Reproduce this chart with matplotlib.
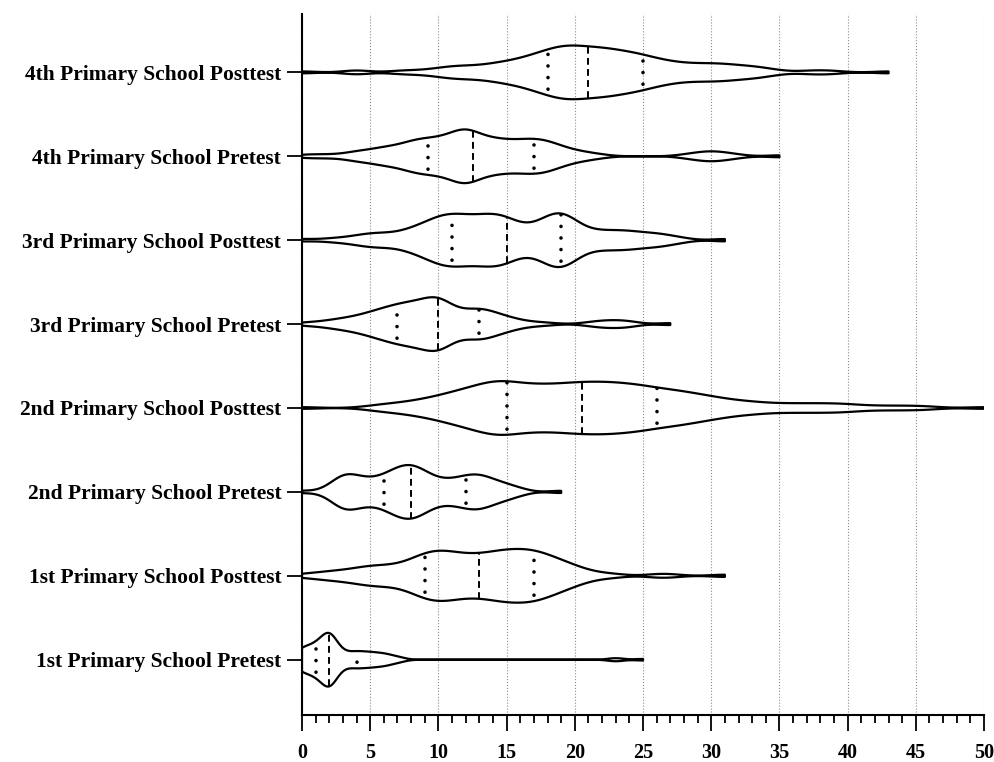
import numpy as np
import matplotlib
matplotlib.use('Agg')
import matplotlib.pyplot as plt
from matplotlib import mlab

plt.rcParams['font.family'] = 'Liberation Serif'
plt.rcParams['font.weight'] = 'bold'

groups = ['1st Primary School Pretest', '1st Primary School Posttest',
          '2nd Primary School Pretest', '2nd Primary School Posttest',
          '3rd Primary School Pretest', '3rd Primary School Posttest',
          '4th Primary School Pretest', '4th Primary School Posttest']

# test scores and how many pupils got each score
pre1_scores = [0, 1, 2, 3, 4, 5, 6, 7, 23, 25]
pre1_counts = [12, 14, 30, 6, 8, 7, 6, 3, 2, 1]

post1_scores = [0, 1, 2, 3, 4, 5, 6, 7, 8, 9, 10, 11, 12, 13, 14, 15, 16, 17, 18,
                19, 20, 21, 22, 23, 26, 27, 31]
post1_counts = [1, 1, 2, 2, 3, 4, 4, 4, 6, 9, 10, 9, 8, 8, 9, 10, 10, 10, 8,
                6, 4, 2, 1, 1, 1, 1, 1]

pre2_scores = [0, 2, 3, 4, 5, 6, 7, 8, 9, 10, 11, 12, 13, 14, 15, 16, 19]
pre2_counts = [1, 3, 10, 8, 6, 8, 12, 14, 10, 6, 6, 8, 9, 6, 4, 2, 1]

post2_scores = [0, 5, 6, 7, 8, 9, 10, 11, 12, 13, 14, 15, 16, 17, 18, 19, 20, 21,
                22, 23, 24, 25, 26, 27, 28, 29, 30, 31, 32, 33, 34, 35, 36, 37,
                38, 39, 40, 41, 42, 43, 44, 45, 46, 50]
post2_counts = [1, 1, 2, 2, 3, 4, 5, 7, 8, 10, 12, 12, 10, 10, 10, 10, 11, 11,
                11, 11, 10, 10, 8, 8, 7, 6, 5, 4, 3, 3, 2, 2, 2, 2,
                2, 2, 2, 1, 1, 1, 1, 1, 1, 1]

pre3_scores = [0, 1, 2, 3, 4, 5, 6, 7, 8, 9, 10, 11, 12, 13, 14, 15, 16, 17, 18,
               21, 22, 23, 24, 27]
pre3_counts = [1, 1, 2, 3, 4, 6, 8, 10, 11, 12, 16, 8, 6, 9, 6, 4, 2, 1, 1,
               1, 2, 2, 2, 1]

post3_scores = [0, 2, 3, 4, 5, 6, 7, 8, 9, 10, 11, 12, 13, 14, 15, 16, 17, 18, 19,
                20, 21, 22, 23, 24, 25, 26, 27, 28, 31]
post3_counts = [1, 1, 1, 2, 3, 3, 3, 5, 7, 10, 11, 10, 10, 11, 10, 6, 6, 10, 13,
                8, 4, 4, 4, 4, 3, 3, 2, 1, 1]

pre4_scores = [0, 1, 2, 3, 4, 5, 6, 7, 8, 9, 10, 11, 12, 13, 14, 15, 16, 17, 18,
               19, 20, 21, 22, 28, 29, 30, 31, 32, 35]
pre4_counts = [1, 1, 1, 1, 3, 3, 5, 5, 8, 9, 9, 11, 16, 10, 9, 8, 8, 9, 8,
               5, 3, 2, 1, 1, 2, 3, 2, 1, 1]

post4_scores = [0, 4, 7, 8, 9, 10, 11, 12, 13, 14, 15, 16, 17, 18, 19, 20, 21, 22,
                23, 24, 25, 26, 27, 28, 29, 30, 31, 32, 33, 34, 35, 37, 38, 39, 43]
post4_counts = [1, 2, 1, 1, 1, 2, 3, 3, 3, 4, 5, 6, 8, 10, 12, 12, 11, 11,
                10, 9, 8, 6, 5, 4, 4, 4, 4, 3, 3, 2, 1, 1, 1, 1, 1]

all_scores = [pre1_scores, post1_scores, pre2_scores, post2_scores,
              pre3_scores, post3_scores, pre4_scores, post4_scores]
all_counts = [pre1_counts, post1_counts, pre2_counts, post2_counts,
              pre3_counts, post3_counts, pre4_counts, post4_counts]
# kernel width in score points for each group
bandwidth = [0.6, 1.0, 0.8, 1.2, 0.9, 0.9, 0.9, 1.0]

fig, ax = plt.subplots(figsize=(9.95, 7.62), dpi=100)
fig.subplots_adjust(left=0.3035, right=0.989, top=0.981, bottom=0.062)

width = 0.64
for i, (scores, counts, bw) in enumerate(zip(all_scores, all_counts, bandwidth)):
    data = np.repeat(scores, counts).astype(float)
    factor = bw / data.std(ddof=1)
    parts = ax.violinplot([data], positions=[i], widths=width, orientation='horizontal',
                          showextrema=False, points=500, bw_method=factor)
    for body in parts['bodies']:
        body.set_alpha(1)
        body.set_facecolor('none')
        body.set_edgecolor('black')
        body.set_linewidth(1.6)
        body.set_zorder(3)

    # quartile lines, as long as the violin is wide there
    kde = mlab.GaussianKDE(data, factor)
    coords = np.linspace(data.min(), data.max(), 500)
    scale = 0.5 * width / kde.evaluate(coords).max()
    q1, med, q3 = np.percentile(data, [25, 50, 75])
    for q in (q1, q3):
        hw = kde.evaluate(np.array([q]))[0] * scale
        ax.plot([q, q], [i - hw, i + hw], color='black', lw=2.6,
                linestyle=(1.6, (0.01, 3.2)), dash_capstyle='round', zorder=4)
    hw = kde.evaluate(np.array([med]))[0] * scale
    ax.plot([med, med], [i - hw, i + hw], color='black', lw=1.4,
            linestyle=(0, (3.5, 2.2)), zorder=4)

ax.set_xlim(0, 50)
ax.set_ylim(-0.656, 7.69)
ax.set_yticks(range(len(groups)))
ax.set_yticklabels(groups)
ax.set_xticks(range(0, 51, 5))
ax.set_xticks(range(0, 51), minor=True)

ax.spines['top'].set_visible(False)
ax.spines['right'].set_visible(False)
ax.spines['left'].set_linewidth(1.5)
ax.spines['bottom'].set_linewidth(1.5)

ax.tick_params(axis='x', which='major', length=11.5, width=1.3, labelsize=14.5, pad=9)
ax.tick_params(axis='x', which='minor', length=6, width=1.3)
ax.tick_params(axis='y', length=11, width=1.3, labelsize=15.5, pad=4)

ax.xaxis.grid(True, which='major', linestyle=':', linewidth=0.8, color='0.55')
ax.set_axisbelow(True)

plt.savefig('out.png', dpi=100)
